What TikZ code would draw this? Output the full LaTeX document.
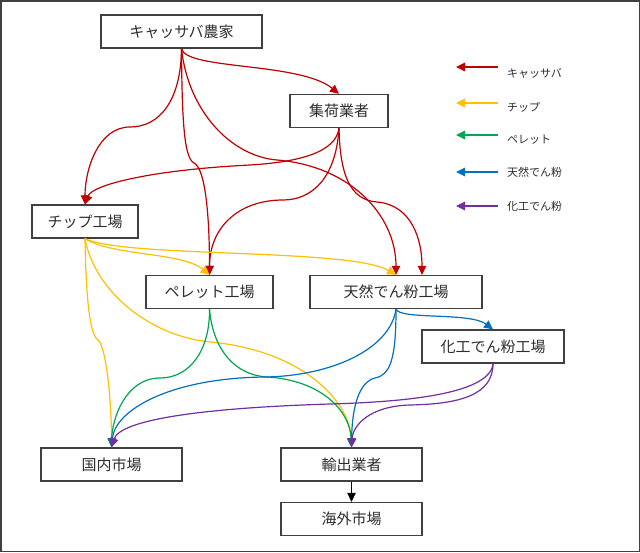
\documentclass[tikz,border=0pt]{standalone}
\usepackage{fontspec}
\setmainfont{Noto Sans CJK JP}
\usetikzlibrary{arrows.meta,calc}
\definecolor{cred}{RGB}{192,0,0}
\definecolor{cyel}{RGB}{255,192,0}
\definecolor{cgrn}{RGB}{0,166,80}
\definecolor{cblu}{RGB}{0,112,192}
\definecolor{cpur}{RGB}{112,48,160}
\definecolor{boxline}{RGB}{64,64,64}
\definecolor{txt}{RGB}{45,45,45}
\tikzset{
  box/.style={draw=boxline, line width=1.3pt, minimum height=33pt, inner sep=0pt,
    text=txt, font=\fontsize{15}{15}\selectfont},
  flow/.style={line width=1.2pt, -{Triangle[length=9pt,width=8.5pt]}},
  redflow/.style={flow, draw=cred},
  yelflow/.style={flow, draw=cyel},
  grnflow/.style={flow, draw=cgrn},
  bluflow/.style={flow, draw=cblu},
  purflow/.style={flow, draw=cpur},
  legtxt/.style={anchor=west, inner sep=0pt, text=txt, font=\fontsize{11}{11}\selectfont},
}
\begin{document}
\begin{tikzpicture}[x=1pt,y=-1pt]
\useasboundingbox (0,0) rectangle (640,552);
\fill[white] (0,0) rectangle (640,552);
\draw[boxline, line width=1.5pt] (0.75,0.75) rectangle (639.25,551.25);

% nodes
\node[box, minimum width=161pt] (farmer)  at (181.5,31.5) {キャッサバ農家};
\node[box, minimum width=98pt]  (collect) at (339,111) {集荷業者};
\node[box, minimum width=106pt] (chip)    at (85,221.5) {チップ工場};
\node[box, minimum width=127pt] (pellet)  at (209.5,292) {ペレット工場};
\node[box, minimum width=172pt] (natural) at (396,292) {天然でん粉工場};
\node[box, minimum width=142pt] (modified) at (493,346.5) {化工でん粉工場};
\node[box, minimum width=141pt] (domestic) at (111.5,464.5) {国内市場};
\node[box, minimum width=141pt] (exporter) at (351.5,464.5) {輸出業者};
\node[box, minimum width=141pt] (overseas) at (351.5,519) {海外市場};

% red: cassava
\draw[redflow] (farmer.south) .. controls (186,70) and (300,62) .. (collect.north);
\draw[redflow] (farmer.south) .. controls (181,100) and (160,127) .. (130,127)
   .. controls (98,127) and (85,170) .. (chip.north);
\draw[redflow] (farmer.south) .. controls (182,120) and (184,158) .. (194,163)
   .. controls (206,169) and (209.5,220) .. (pellet.north);
\draw[redflow] (farmer.south) .. controls (188,110) and (230,156) .. (277,160)
   .. controls (350,166) and (396,215) .. (natural.north);
\draw[redflow] (collect.south) .. controls (336,152) and (300,162) .. (250,165)
   .. controls (150,170) and (92,185) .. (chip.north);
\draw[redflow] (collect.south) .. controls (336,178) and (312,200) .. (283,200)
   .. controls (238,200) and (209.5,228) .. (pellet.north);
\draw[redflow] (collect.south) .. controls (340,175) and (350,200) .. (377,202)
   .. controls (412,205) and (422,240) .. ([xshift=26pt]natural.north);

% yellow: chips
\draw[yelflow] (chip.south) .. controls (112,256) and (182,252) .. (pellet.north);
\draw[yelflow] (chip.south) .. controls (125,258) and (350,248) .. (natural.north);
\draw[yelflow] (chip.south) .. controls (86,300) and (90,335) .. (98,340)
   .. controls (106,346) and (111.5,400) .. (domestic.north);
\draw[yelflow] (chip.south) .. controls (95,292) and (150,336) .. (210,342)
   .. controls (300,350) and (350,400) .. (exporter.north);

% green: pellets
\draw[grnflow] (pellet.south) .. controls (210,350) and (190,378) .. (160,378)
   .. controls (125,378) and (112,420) .. (domestic.north);
\draw[grnflow] (pellet.south) .. controls (213,350) and (235,375) .. (267,377)
   .. controls (320,380) and (350,410) .. (exporter.north);

% blue: native starch
\draw[bluflow] (natural.south) .. controls (400,320) and (470,312) .. (modified.north);
\draw[bluflow] (natural.south) .. controls (390,350) and (330,376) .. (265,377)
   .. controls (170,378) and (115,410) .. (domestic.north);
\draw[bluflow] (natural.south) .. controls (396,360) and (390,375) .. (375,378)
   .. controls (358,382) and (352,410) .. (exporter.north);

% purple: modified starch
\draw[purflow] (modified.south) .. controls (490,395) and (400,402) .. (330,404)
   .. controls (200,408) and (120,420) .. (domestic.north);
\draw[purflow] (modified.south) .. controls (493,395) and (460,404) .. (410,405)
   .. controls (370,406) and (353,425) .. (exporter.north);

% black
\draw[flow, draw=black] (exporter.south) -- (overseas.north);

% legend
\coordinate (l1a) at (498,67);  \coordinate (l1b) at (456,67);
\coordinate (l2a) at (498,103); \coordinate (l2b) at (456,103);
\coordinate (l3a) at (498,135); \coordinate (l3b) at (456,135);
\coordinate (l4a) at (498,172); \coordinate (l4b) at (456,172);
\coordinate (l5a) at (498,206); \coordinate (l5b) at (456,206);
\draw[redflow] (l1a) -- (l1b);
\draw[yelflow] (l2a) -- (l2b);
\draw[grnflow] (l3a) -- (l3b);
\draw[bluflow] (l4a) -- (l4b);
\draw[purflow] (l5a) -- (l5b);
\node[legtxt] (t1) at (507,73) {キャッサバ};
\node[legtxt] (t2) at (507,107) {チップ};
\node[legtxt] (t3) at (507,140) {ペレット};
\node[legtxt] (t4) at (507,172) {天然でん粉};
\node[legtxt] (t5) at (507,206) {化工でん粉};
\end{tikzpicture}
\end{document}
